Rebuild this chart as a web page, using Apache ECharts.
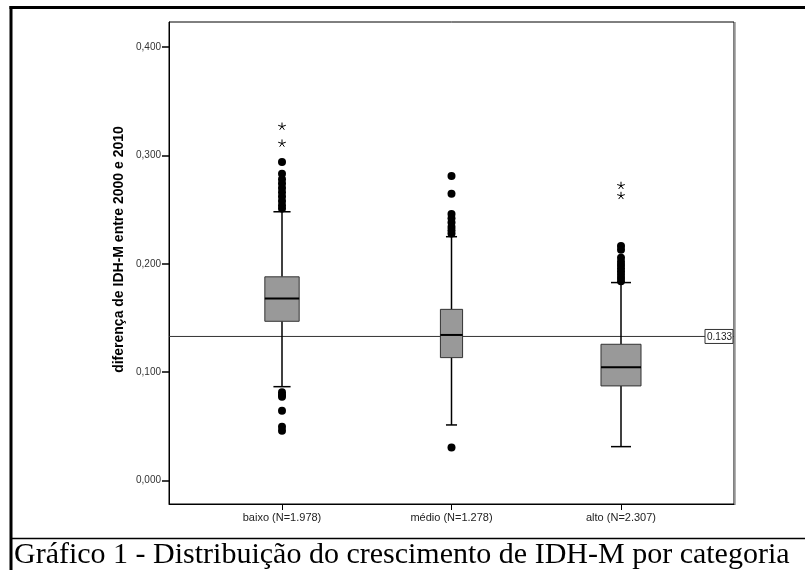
<!DOCTYPE html>
<html>
<head>
<meta charset="utf-8">
<script src="https://cdn.jsdelivr.net/npm/echarts@6/dist/echarts.min.js"></script>
<style>
html,body{margin:0;padding:0;background:#fff;}
#chart{width:805px;height:570px;}
</style>
</head>
<body>
<div id="chart"></div>
<script>
// ---- data ----
const categories = ['baixo (N=1.978)', 'médio (N=1.278)', 'alto (N=2.307)'];
const counts = [1978, 1278, 2307];
// [lower whisker, Q1, median, Q3, upper whisker]
const statsBaixo = [0.0867, 0.147, 0.168, 0.188, 0.248];
const statsMedio = [0.0514, 0.1135, 0.1344, 0.158, 0.225];
const statsAlto  = [0.0314, 0.0874, 0.1046, 0.1258, 0.1827];
// outliers (circles)
const outBaixo = [0.294, 0.283, 0.278, 0.274, 0.270, 0.266, 0.262, 0.258, 0.254, 0.251, 0.0815, 0.079, 0.0775, 0.0646, 0.0498, 0.046];
const outMedio = [0.281, 0.2645, 0.246, 0.242, 0.238, 0.234, 0.231, 0.228, 0.0305];
const outAlto  = [0.2165, 0.213, 0.2055, 0.202, 0.199, 0.196, 0.193, 0.190, 0.187, 0.184];
// extremes (stars)
const extBaixo = [0.3266, 0.311];
const extMedio = [];
const extAlto  = [0.272, 0.2627];
const yTicks = [0, 0.1, 0.2, 0.3, 0.4];
const refValue = 0.133;
const yAxisTitle = 'diferença de IDH-M entre 2000 e 2010';
const caption = 'Gráfico 1 - Distribuição do crescimento de IDH-M por categoria';

// ---- build ----
const allStats = [statsBaixo, statsMedio, statsAlto];
const allOut = [outBaixo, outMedio, outAlto];
const allExt = [extBaixo, extMedio, extAlto];
const boxData = allStats.map((s, i) => [i].concat(s).concat([counts[i]]));
const outData = [];
allOut.forEach((arr, i) => arr.forEach(v => outData.push([i, v])));
const extData = [];
allExt.forEach((arr, i) => arr.forEach(v => extData.push([i, v])));

const PX_PER_CASE = 0.01735;
const FONT = '"Liberation Sans", Arial, sans-serif';

function renderBox(params, api) {
  const i = api.value(0);
  const lo = api.coord([i, api.value(1)]);
  const q1 = api.coord([i, api.value(2)]);
  const md = api.coord([i, api.value(3)]);
  const q3 = api.coord([i, api.value(4)]);
  const hi = api.coord([i, api.value(5)]);
  const n = api.value(6);
  const x = md[0];
  const w = n * PX_PER_CASE;
  const cap = w / 2;
  const lineStyle = {stroke: '#000', lineWidth: 1.5};
  return {
    type: 'group',
    children: [
      {type: 'line', shape: {x1: x, y1: hi[1], x2: x, y2: q3[1]}, style: lineStyle},
      {type: 'line', shape: {x1: x, y1: q1[1], x2: x, y2: lo[1]}, style: lineStyle},
      {type: 'line', shape: {x1: x - cap / 2, y1: hi[1], x2: x + cap / 2, y2: hi[1]}, style: lineStyle},
      {type: 'line', shape: {x1: x - cap / 2, y1: lo[1], x2: x + cap / 2, y2: lo[1]}, style: lineStyle},
      {type: 'rect', shape: {x: x - w / 2, y: q3[1], width: w, height: q1[1] - q3[1]},
        style: {fill: '#999999', stroke: '#333', lineWidth: 1}},
      {type: 'line', shape: {x1: x - w / 2, y1: md[1], x2: x + w / 2, y2: md[1]},
        style: {stroke: '#000', lineWidth: 2}}
    ]
  };
}

function renderStar(params, api) {
  const c = api.coord([api.value(0), api.value(1)]);
  const r = 4;
  let d = '';
  for (let k = 0; k < 5; k++) {
    const a = -Math.PI / 2 + k * 2 * Math.PI / 5;
    d += 'M' + c[0] + ' ' + c[1] + 'L' + (c[0] + r * Math.cos(a)) + ' ' + (c[1] + r * Math.sin(a));
  }
  return {type: 'path', shape: {pathData: d}, style: {stroke: '#000', lineWidth: 1, fill: null}};
}

function renderRef(params, api) {
  const cs = params.coordSys;
  const y = api.coord([0, api.value(0)])[1];
  const label = String(api.value(0));
  return {
    type: 'group',
    children: [
      {type: 'line', shape: {x1: cs.x, y1: y, x2: cs.x + cs.width, y2: y}, style: {stroke: '#333', lineWidth: 1}},
      {type: 'rect', shape: {x: cs.x + cs.width - 29, y: y - 7, width: 28, height: 14},
        style: {fill: '#fff', stroke: '#333', lineWidth: 1}},
      {type: 'text', style: {text: label, x: cs.x + cs.width - 2, y: y + 0.5, align: 'right', verticalAlign: 'middle',
        font: '10px ' + FONT, fill: '#222'}}
    ]
  };
}

const chart = echarts.init(document.getElementById('chart'), null, {renderer: 'canvas'});
chart.setOption({
  animation: false,
  backgroundColor: '#fff',
  grid: {left: 169, top: 22, right: 71, bottom: 66, show: true, borderColor: '#000', borderWidth: 1,
    outerBoundsMode: 'none', containLabel: false},
  xAxis: {
    type: 'value', min: -2 / 3, max: 8 / 3,
    splitLine: {show: false},
    axisLine: {show: true, onZero: false, lineStyle: {color: '#000', width: 1}},
    axisTick: {show: true, customValues: [0, 1, 2], length: 6, lineStyle: {color: '#000'}},
    axisLabel: {customValues: [0, 1, 2], formatter: v => categories[Math.round(v)], margin: 8,
      fontFamily: FONT, fontSize: 11, color: '#222'}
  },
  yAxis: {
    type: 'value', min: -0.0215, max: 0.423,
    splitLine: {show: false},
    axisLine: {show: true, onZero: false, lineStyle: {color: '#000', width: 1}},
    axisTick: {show: true, customValues: yTicks, length: 7, lineStyle: {color: '#000', width: 1.5}},
    axisLabel: {customValues: yTicks, formatter: v => v.toFixed(3).replace('.', ','), margin: 8,
      fontFamily: FONT, fontSize: 10, color: '#333'}
  },
  series: [
    {type: 'custom', name: 'ref', renderItem: renderRef, data: [[refValue]], z: 1, clip: false},
    {type: 'custom', name: 'box', renderItem: renderBox, data: boxData, z: 2},
    {type: 'scatter', name: 'outliers', data: outData, symbol: 'circle', symbolSize: 8,
      itemStyle: {color: '#000', opacity: 1}, z: 3},
    {type: 'custom', name: 'extremes', renderItem: renderStar, data: extData, z: 3}
  ],
  graphic: [
    {type: 'text', x: 119, y: 249.5, rotation: Math.PI / 2,
      style: {text: yAxisTitle, align: 'center', verticalAlign: 'middle', font: 'bold 14px ' + FONT, fill: '#000'}},
    {type: 'line', shape: {x1: 9.5, y1: 7.5, x2: 805, y2: 7.5}, style: {stroke: '#000', lineWidth: 3}},
    {type: 'line', shape: {x1: 11, y1: 6, x2: 11, y2: 570}, style: {stroke: '#000', lineWidth: 3}},
    {type: 'line', shape: {x1: 10, y1: 538.5, x2: 805, y2: 538.5}, style: {stroke: '#000', lineWidth: 1.5}},
    {type: 'line', shape: {x1: 735, y1: 22, x2: 735, y2: 505}, style: {stroke: '#999', lineWidth: 1.5}},
    {type: 'text', x: 14, y: 555,
      style: {text: caption, align: 'left', verticalAlign: 'middle', font: '30px "Liberation Serif", "Times New Roman", serif', fill: '#000'}}
  ]
});
</script>
</body>
</html>
